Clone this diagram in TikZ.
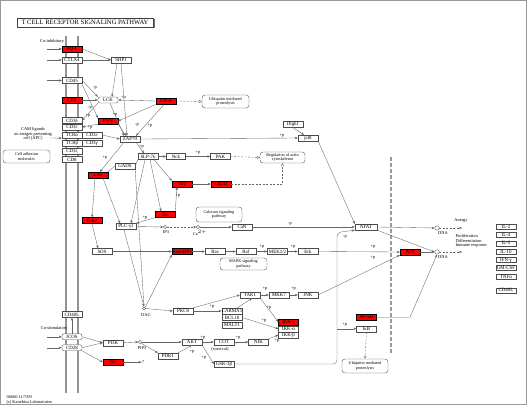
\documentclass[tikz,border=0pt]{standalone}
\usepackage{fontspec}
\setmainfont{Liberation Serif}
\usetikzlibrary{arrows.meta}
\newcommand\kgf{\fontsize{4.9}{5.2}\selectfont}
\newcommand\kpf{\fontsize{4.2}{4.6}\selectfont}
\newcommand\klf{\fontsize{4.4}{4.8}\selectfont}
\newcommand\ktf{\fontsize{6.6}{7.5}\selectfont}
\tikzset{
 gn/.style={draw=black!70, line width=0.35pt, fill=white, minimum width=20pt, minimum height=6pt, inner sep=0pt, font=\kgf},
 rd/.style={gn, fill=red, draw=black},
 pw/.style={draw=black!70, line width=0.35pt, fill=white, rounded corners=3pt, align=center, font=\kpf, inner sep=0.5pt},
 cp/.style={circle, draw=black!70, fill=white, line width=0.35pt, minimum size=3.2pt, inner sep=0pt},
 lb/.style={font=\klf, inner sep=0.3pt},
 ed/.style={draw=black!60, line width=0.35pt, -{Stealth[length=3pt,width=2.4pt]}},
 ln/.style={draw=black!60, line width=0.35pt},
 ind/.style={draw=black!60, line width=0.35pt, dash pattern=on 2pt off 1.5pt, -{Triangle[open,length=3pt,width=3pt]}},
 inds/.style={draw=black!60, line width=0.35pt, dash pattern=on 2pt off 1.5pt, -{Stealth[length=3pt,width=2.4pt]}},
}
\begin{document}
\begin{tikzpicture}[x=1pt,y=-1pt]
\useasboundingbox (0,0) rectangle (527,406);
\draw[black!40, line width=0.9pt] (0.5,0.5) rectangle (526,404.5);
% membranes
\draw[black!42, line width=1.8pt] (66,36) -- (66,393);
\draw[black!42, line width=1.8pt] (78,36) -- (78,393);
\draw[black!40, line width=1.3pt, dash pattern=on 4pt off 2pt] (391,157) -- (391,353);
% title
\draw[black!55, line width=0.9pt] (18.5,27.5) -- (154,27.5) -- (154,19);
\node[draw=black!75, line width=0.4pt, fill=white, minimum width=136pt, minimum height=9pt, inner sep=0pt, font=\ktf] (title) at (85,22.5) {T CELL RECEPTOR SIGNALING PATHWAY};
% text labels
\node[lb, anchor=east] (coinh) at (64.5,41.5) {Co-inhibitory};
\node[lb, align=center] (cam) at (33,134) {CAM ligands\\on antigen presenting\\cell (APC)};
\node[lb, anchor=east] (costim) at (68,328) {Co-stimulatory};
\node[lb, anchor=north west, align=left] (foot) at (6,395.5) {04660 11/7/09\\(c) Kanehisa Laboratories};
% receptor column
\node[rd] (pd1) at (72,49) {PD-1};
\node[gn] (ctla4) at (72,60) {CTLA4};
\node[gn] (cd45) at (72,80.5) {CD45};
\node[rd] (cd4) at (72,100) {CD4};
\node[gn] (cd3d) at (72,120.5) {CD3δ};
\node[gn] (cd3e) at (72,127) {CD3ε};
\node[gn] (tcra) at (72,135) {TCRα};
\node[gn] (cd3e2) at (92,135) {CD3ε};
\node[gn] (tcrb) at (72,143) {TCRβ};
\node[gn] (cd3g) at (92,143) {CD3γ};
\node[gn] (cd3z) at (72,151) {CD3ζ};
\node[gn] (cd8) at (72,159.5) {CD8};
\node[pw, minimum width=47pt, minimum height=13pt] (cam2) at (26.5,156.5) {Cell adhesion\\molecules};
\node[gn] (cd40l) at (72,314.5) {CD40L};
\node[gn, rounded corners=2pt] (icos) at (72,336.8) {ICOS};
\node[gn, rounded corners=2pt] (cd28) at (72,347.7) {CD28};
% upper signalling
\node[gn] (shp1) at (121,60) {SHP1};
\node[gn, rounded corners=2pt] (lck) at (108,100) {LCK};
\node[rd, line width=0.9pt] (cblb) at (166,101) {Cbl-b};
\node[pw, minimum width=47pt, minimum height=13pt] (ubq1) at (225.5,101.5) {Ubiquitin mediated\\proteolysis};
\node[rd] (fyn) at (108,121) {FYN};
\node[gn] (zap70) at (130,139) {ZAP70};
\node[gn] (slp76) at (148,156.5) {SLP-76};
\node[gn, minimum width=19pt] (nck) at (176,156.5) {Nck};
\node[gn] (pak) at (220.5,156.5) {PAK};
\node[pw, minimum width=45pt, minimum height=11pt] (actin) at (282.5,157.5) {Regulation of actin\\cytoskeleton};
\node[gn] (gads) at (125,166) {GADS};
\node[rd] (lat) at (98,175) {LAT};
\node[rd] (vav) at (182,184) {Vav};
\node[rd] (cdc42) at (221,184) {Cdc42};
\node[rd] (itk) at (165,214.5) {Itk};
\node[rd] (grb2) at (92,220.5) {Grb2};
\node[gn] (plcg) at (126,226.5) {PLC-γ1};
\node[cp] (ip3) at (165,227) {};
\node[lb] (ip3l) at (166,232.5) {IP3};
\node[pw, minimum width=46pt, minimum height=15pt] (calc) at (219,214.5) {Calcium signaling\\pathway};
\node[cp] (ca) at (198,227) {};
\node[lb] (cal) at (200,232.5) {Ca$^{2+}$};
\node[gn] (can) at (242,227) {CaN};
\node[gn] (dlgh1) at (293,124.5) {Dlgh1};
\node[gn] (p38) at (308,138) {p38};
\node[gn, minimum width=22pt] (nfat) at (366,227) {NFAT};
% MAPK row
\node[gn] (sos) at (102,251.5) {SOS};
\node[rd] (rasgrp) at (182,251.5) {RasGRP1};
\node[gn] (ras) at (215,251.5) {Ras};
\node[gn] (raf) at (246,251.5) {Raf};
\node[gn] (mek) at (277.5,251.5) {MEK1/2};
\node[gn] (erk) at (308,251.5) {Erk};
\node[pw, minimum width=47pt, minimum height=12pt] (mapk) at (243.5,264) {MAPK signaling\\pathway};
\node[rd] (ap1) at (410,252) {AP1};
% nucleus outputs
\node[cp, minimum size=4.5pt] (dna1) at (437,228) {};
\node[lb] (dna1l) at (443,233) {DNA};
\coordinate (o1) at (462,228);
\node[lb] (anergy) at (461,220.5) {Anergy};
\node[cp, minimum size=4.5pt] (dna2) at (437,252) {};
\node[lb] (dna2l) at (443,257) {DNA};
\coordinate (o2) at (462,252);
\node[lb, anchor=west, align=left] (prolif) at (455,241) {Proliferation\\Differentiation\\Immune response};
\node[gn, minimum height=5pt] (il2) at (506,226.7) {IL-2};
\node[gn, minimum height=5pt] (il4) at (506,235) {IL-4};
\node[gn, minimum height=5pt] (il5) at (506,243.3) {IL-5};
\node[gn, minimum height=5pt] (il10) at (506,251.7) {IL-10};
\node[gn, minimum height=5pt] (ifng) at (506,260) {IFN-γ};
\node[gn, minimum height=5pt] (gmcsf) at (506,268) {GM-CSF};
\node[gn, minimum height=5pt] (tnfa) at (506,276.8) {TNFα};
\node[gn, minimum height=5pt] (cd40lb) at (506,290.2) {CD40L};
% lower signalling
\node[cp] (dag) at (144,308.5) {};
\node[lb] (dagl) at (146,315) {DAG};
\node[gn] (pkct) at (183,311) {PKCθ};
\node[gn] (carma1) at (232,311) {CARMA1};
\node[gn] (bcl10) at (232,317.5) {BCL10};
\node[gn] (malt1) at (232,325) {MALT1};
\node[gn] (tak1) at (250,295) {TAK1};
\node[gn] (mkk7) at (279,295) {MKK7};
\node[gn] (jnk) at (308,295) {JNK};
\node[rd] (ikkg) at (288.5,322) {IKK-γ};
\node[gn] (ikka) at (288.5,328.8) {IKK-α};
\node[gn] (ikkb) at (288.5,335) {IKK-β};
\node[rd] (nfkb) at (366.5,317.3) {NF-κB};
\node[gn] (ikb) at (366.5,328.7) {IκB};
\node[pw, minimum width=46pt, minimum height=14pt] (ubq2) at (365,366) {Ubiquitin mediated\\proteolysis};
\node[gn] (pi3k) at (113,342.7) {PI3K};
\node[rd] (tec) at (113,362.2) {Tec};
\node[lb] (qm) at (143,362.2) {?};
\node[cp] (pip3) at (140,342) {};
\node[lb] (pip3l) at (142,348) {PIP3};
\node[gn] (pdk1) at (168,356) {PDK1};
\node[gn] (akt) at (192,342) {AKT};
\node[gn] (cot) at (224,342) {COT};
\node[lb] (surv) at (220,349) {(survival)};
\node[gn] (nik) at (258.5,342) {NIK};
\node[gn] (gsk3b) at (224,364) {GSK-3β};
% ligand arrows
\coordinate (a1) at (47,49); \draw[ed] (a1) -- (pd1.west);
\coordinate (a2) at (47,60); \draw[ed] (a2) -- (ctla4.west);
\coordinate (a3) at (47,80.5); \draw[ed] (a3) -- (cd45.west);
\coordinate (a4) at (50,138); \draw[ed] (a4) -- (tcra.south west);
\coordinate (a5) at (47,336.8); \draw[ed] (a5) -- (icos.west);
\coordinate (a6) at (47,347.7); \draw[ed] (a6) -- (cd28.west);
% upper edges
\draw[ed] (pd1.east) -- (shp1.west);
\draw[ed] (ctla4.east) -- (shp1.west);
\draw[ed] ([xshift=-4pt]shp1.south) -- ([xshift=4pt]lck.north);
\draw[ed] (shp1.south) -- ([xshift=-3pt]zap70.north);
\draw[ed] (cd45.east) -- (lck.north west);
\draw[ed] ([yshift=-1pt]cd45.south east) -- (fyn.north west);
\draw[ed] (cd4.east) -- (lck.west);
\draw[ed] (cblb.west) -- (lck.east);
\draw[ed] (cblb.south west) -- (fyn.east);
\draw[ed] ([xshift=-2pt]cblb.south) -- ([xshift=6pt]zap70.north);
\draw[ed] ([xshift=2pt]lck.south) -- ([xshift=-6pt]zap70.north);
\draw[ed] (fyn.south east) -- ([xshift=-4pt]zap70.north);
\draw[ed] (lck.south west) -- (cd3d.east);
\draw[ed] (fyn.south west) -- (cd3e.east);
\draw[ed] (cd3e2.east) -- (zap70.west);
\draw[ind] (cblb.east) -- (ubq1.west);
\node[lb] (l1) at (95,87.5) {-p};
\node[lb] (l2) at (90,108) {-p};
\node[lb] (l3) at (123.5,97.5) {+u};
\node[lb] (l4) at (115,115) {+p};
\node[lb] (l5) at (88,115.5) {+p};
\node[lb] (l6) at (90,128) {+p};
\node[lb] (l7) at (137,125) {-p};
\node[lb] (l8) at (150,126) {+p};
% zap70 area
\draw[ed] ([xshift=6pt]zap70.south) -- ([xshift=-4pt]slp76.north);
\draw[ed] ([xshift=-6pt]zap70.south) -- ([xshift=2pt]lat.north);
\draw[ln] (lat.north east) -- (gads.west);
\draw[ln] (gads.east) -- (slp76.south west);
\draw[ed] (zap70.east) -- (p38.west);
\draw[ed] (dlgh1.south) -- ([xshift=-4pt]p38.north);
\draw[ed] (p38.south east) -- (nfat.north west);
\draw[ed] (slp76.east) -- (nck.west);
\draw[ed] (nck.east) -- (pak.west);
\draw[ind] (pak.east) -- (actin.west);
\draw[ed] ([xshift=6pt]slp76.south) -- (vav.north west);
\draw[ed] (vav.east) -- (cdc42.west);
\draw[ind] (cdc42.east) -| (actin.south);
\draw[ed] ([xshift=2pt]slp76.south) -- ([xshift=-4pt]itk.north);
\draw[ed] (itk.north east) -- ([xshift=-5pt]vav.south);
\draw[ed] (itk.south west) -- (plcg.north east);
\draw[ed] ([xshift=-3pt]slp76.south) -- ([xshift=5pt]plcg.north);
\draw[ed] ([xshift=5pt]lat.south) -- ([xshift=-6pt]plcg.north);
\draw[ed] ([xshift=-3pt]lat.south) -- (grb2.north);
\draw[ed] (grb2.south) -- ([xshift=-4pt]sos.north);
\node[lb] (l9) at (141.5,147) {+p};
\node[lb] (l10) at (105,158) {+p};
\node[lb] (l11) at (282,135.5) {+p};
\node[lb] (l12) at (198,152.5) {+p};
\node[lb] (l13) at (178,196) {+p};
\node[lb] (l14) at (145,218) {+p};
% MAPK row edges
\draw[ed] (sos.east) -- (rasgrp.west);
\draw[ed] (rasgrp.east) -- (ras.west);
\draw[ed] (ras.east) -- (raf.west);
\draw[ed] (raf.east) -- (mek.west);
\draw[ed] (mek.east) -- (erk.west);
\draw[ed] (erk.east) -- (ap1.west);
\node[lb] (l15) at (262,247) {+p};
\node[lb] (l16) at (293,247) {+p};
\node[lb] (l17) at (373,247) {+p};
% calcium
\draw[ed] (plcg.east) -- (ip3.west);
\draw[inds] (ip3.east) -- (ca.west);
\draw[ed] (ca.east) -- (can.west);
\draw[ed] (can.east) -- (nfat.west);
\node[lb] (l18) at (290,223.5) {-p};
% nucleus
\draw[ed] (nfat.east) -- (dna1.west);
\draw[inds] (dna1.east) -- (o1);
\draw[ed] (nfat.south east) -- (dna2.west);
\draw[ed] (ap1.east) -- (dna2.west);
\draw[inds] (dna2.east) -- (o2);
\draw[ed] (jnk.east) -- (ap1.south west);
\node[lb] (l19) at (373,258) {+p};
% lower
\draw[ed] ([xshift=-2pt]plcg.south) -- (dag.north);
\draw[ln] (gads.south east) -- (dag.north);
\draw[ed] (dag.north east) -- (rasgrp.south west);
\draw[ed] (dag.east) -- (pkct.west);
\draw[ed] (pkct.east) -- (carma1.west);
\draw[ed] (pkct.north east) -- (tak1.west);
\draw[ed] ([xshift=-5pt]carma1.north east) -- ([xshift=2pt]tak1.south);
\draw[ed] (tak1.east) -- (mkk7.west);
\draw[ed] (mkk7.east) -- (jnk.west);
\draw[ed] (tak1.south east) -- (ikkg.west);
\draw[ed] (bcl10.east) -- (ikka.west);
\draw[ed] (nik.north east) -- (ikkb.west);
\node[lb] (l20) at (212,307) {+p};
\node[lb] (l21) at (265,288.5) {+p};
\node[lb] (l22) at (293.5,288.5) {+p};
\node[lb] (l23) at (269,308) {+p};
\node[lb] (l24) at (264,320.5) {+p};
\node[lb] (l25) at (277,340.5) {+p};
\coordinate (n1) at (410,317.3);
\draw[ed] (nfkb.east) -- (n1) -- (dna2.south);
\draw[ind] (ikb.south) -- (ubq2.north);
\coordinate (b1) at (337,328.7);
\draw[ed] (b1) -- (ikb.west);
\node[lb] (l26) at (345,325) {+p};
\coordinate (g1) at (337,364);
\coordinate (g2) at (337,232.5);
\draw[ed, rounded corners=4pt] (gsk3b.east) -- (g1) -- (g2) -- (nfat.south west);
\node[lb] (l27) at (345,236.5) {-p};
% PI3K
\draw[ed] (icos.east) -- (pi3k.west);
\draw[ed] (cd28.east) -- (pi3k.west);
\draw[ed] (icos.north) -- (cd40l.south);
\draw[ed] (cd28.south east) -- (tec.west);
\draw[ed] (tec.east) -- (qm.west);
\draw[ed] (pi3k.east) -- (pip3.west);
\draw[ed] (pip3.east) -- (akt.west);
\draw[ed] (pip3.south east) -- (pdk1.north west);
\draw[ed] (pdk1.north east) -- (akt.south);
\draw[ed] (akt.east) -- (cot.west);
\draw[ed] (cot.east) -- (nik.west);
\draw[ed] (akt.south east) -- (gsk3b.west);
\node[lb] (l28) at (192,352) {+p};
\node[lb] (l29) at (203,338) {+p};
\node[lb] (l30) at (238,338) {+p};
\node[lb] (l31) at (204,358) {+p};
\end{tikzpicture}
\end{document}
